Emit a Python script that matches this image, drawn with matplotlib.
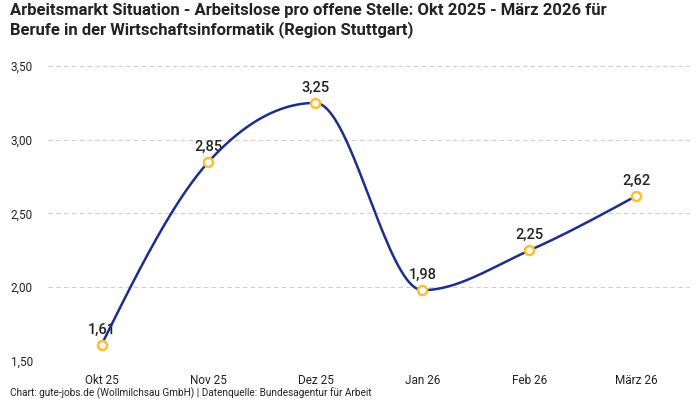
import numpy as np
import matplotlib
matplotlib.use("Agg")
import matplotlib.pyplot as plt
from matplotlib.ticker import FuncFormatter

# data
months = ["Okt 25", "Nov 25", "Dez 25", "Jan 26", "Feb 26", "März 26"]
ratio = [1.61, 2.85, 3.25, 1.98, 2.25, 2.62]
y_ticks = [1.50, 2.00, 2.50, 3.00, 3.50]

title = ("Arbeitsmarkt Situation - Arbeitslose pro offene Stelle: Okt 2025 - März 2026 für\n"
         "Berufe in der Wirtschaftsinformatik (Region Stuttgart)")
source = "Chart: gute-jobs.de (Wollmilchsau GmbH) | Datenquelle: Bundesagentur für Arbeit"

LINE = "#1b2e8f"
MARK = "#fbc02d"


def de(v, pos=None):
    return f"{v:.2f}".replace(".", ",")


# monotone cubic (same idea as d3 curveMonotoneX) just for drawing the line
def monotone(x, y, n=40):
    x = np.asarray(x, float)
    y = np.asarray(y, float)
    h = np.diff(x)
    s = np.diff(y) / h
    t = np.zeros(len(x))
    for i in range(1, len(x) - 1):
        p = (s[i - 1] * h[i] + s[i] * h[i - 1]) / (h[i - 1] + h[i])
        t[i] = (np.sign(s[i - 1]) + np.sign(s[i])) * min(abs(s[i - 1]), abs(s[i]), 0.5 * abs(p))
    t[0] = (3 * s[0] - t[1]) / 2
    t[-1] = (3 * s[-1] - t[-2]) / 2
    xs, ys = [], []
    for i in range(len(x) - 1):
        u = np.linspace(0, 1, n)
        h00 = 2 * u**3 - 3 * u**2 + 1
        h10 = u**3 - 2 * u**2 + u
        h01 = -2 * u**3 + 3 * u**2
        h11 = u**3 - u**2
        xs.append(x[i] + u * h[i])
        ys.append(h00 * y[i] + h10 * h[i] * t[i] + h01 * y[i + 1] + h11 * h[i] * t[i + 1])
    return np.concatenate(xs), np.concatenate(ys)


plt.rcParams["font.family"] = ["Roboto", "DejaVu Sans"]

fig = plt.figure(figsize=(7, 4), dpi=100)
ax = fig.add_axes([0.0686, 0.0975, 0.917, 0.7375])

x = np.arange(len(months))
cx, cy = monotone(x, ratio)
ax.plot(cx, cy, color=LINE, lw=1.8, zorder=3)
ax.plot(x, ratio, ls="none", marker="o", ms=6.5, mfc="white", mec=MARK, mew=1.8, zorder=4)
for xi, v in zip(x, ratio):
    ax.annotate(de(v), (xi, v), xytext=(0, 6), textcoords="offset points",
                ha="center", va="bottom", fontsize=10.5, fontweight="medium",
                color="#222222", zorder=2)

ax.set_xlim(-0.5, len(months) - 0.5)
ax.set_ylim(1.5, 3.5)
ax.set_xticks(x)
ax.set_xticklabels(months)
ax.set_yticks(y_ticks)
ax.yaxis.set_major_formatter(FuncFormatter(de))
ax.tick_params(axis="both", length=0, labelsize=8.5, colors="#222222")
ax.tick_params(axis="x", pad=9)
ax.tick_params(axis="y", pad=11)
ax.grid(axis="y", color="#cfcfcf", ls=(0, (4, 3)), lw=0.8)
for sp in ax.spines.values():
    sp.set_visible(False)

fig.text(10 / 700, 1 - 3 / 400, title, ha="left", va="top", fontsize=12,
         fontweight="bold", color="#222222", linespacing=1.2)
fig.text(10 / 700, 1 - 393 / 400, source, ha="left", va="center", fontsize=7.2,
         color="#222222")

fig.savefig("out.png", dpi=100)
